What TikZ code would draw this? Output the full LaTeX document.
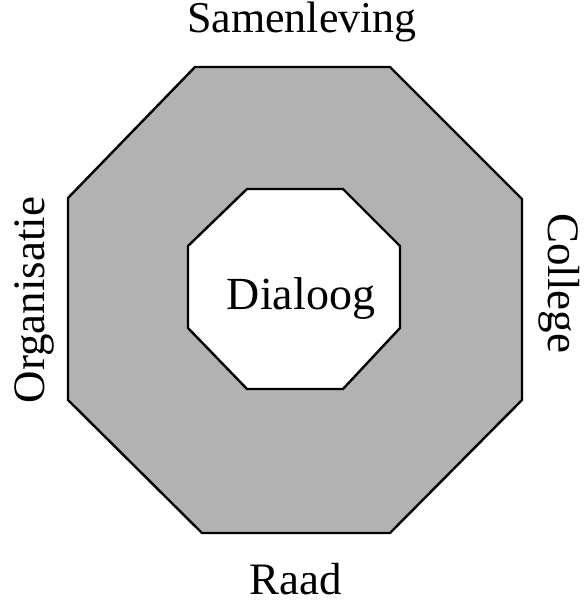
\documentclass[tikz,border=0pt]{standalone}
\usepackage{fontspec}
\setmainfont{Liberation Serif}
\usetikzlibrary{positioning}

\begin{document}
\begin{tikzpicture}[
      x=1pt, y=1pt,
      ring/.style={draw=black, line width=2.4pt, line join=miter, fill=black!30},
      kern/.style={draw=black, line width=2.4pt, line join=miter, fill=white},
      partij/.style={inner sep=0pt, anchor=base, font=\fontsize{45}{54}\selectfont},
      midden/.style={inner sep=0pt, anchor=base, font=\fontsize{46}{55}\selectfont}
  ]
      \useasboundingbox (0,0) rectangle (587,606);

      % Buitenste achthoek
      \draw[ring] (195,539) -- (390,539) -- (522,407) -- (522,206)
          -- (390,73) -- (202,73) -- (68,206) -- (68,408) -- cycle;

      % Binnenste achthoek
      \draw[kern] (247,417) -- (343,417) -- (400,360) -- (400,278)
          -- (343,217) -- (247,217) -- (188,278) -- (188,360) -- cycle;

      % Teksten
      \node[midden] (dia) at (301,296) {Dialoog};
      \node[partij, font=\fontsize{44}{52}\selectfont] (sam) at (302,573) {Samenleving};
      \node[partij] (raad) at (296,11) {Raad};
      \node[partij, rotate=90] (org) at (45,306) {Organisatie};
      \node[partij, rotate=-90] (col) at (548,323) {College};

  \end{tikzpicture}
\end{document}
